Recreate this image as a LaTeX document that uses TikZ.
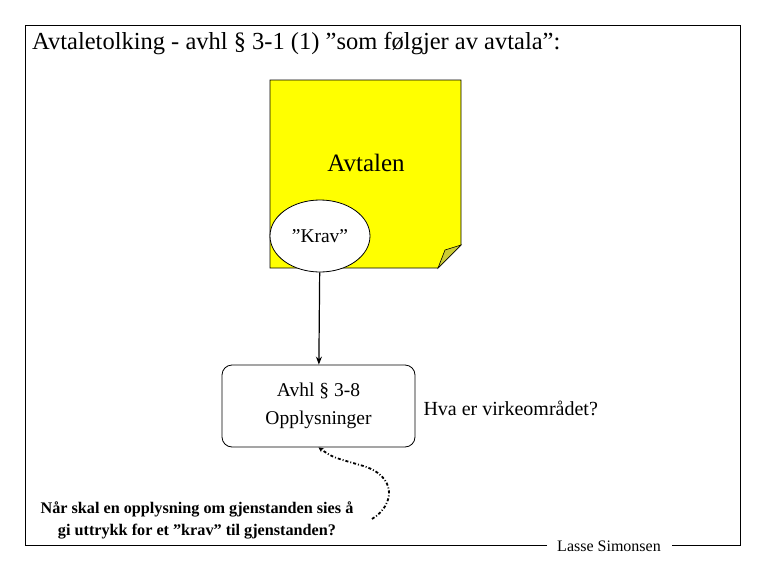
\documentclass[tikz,border=0pt]{standalone}
\usepackage{fontspec}
\setmainfont{Liberation Serif}
\usepackage{tikz}
\usetikzlibrary{shapes.geometric, arrows.meta, positioning, calc}
\definecolor{noteyellow}{HTML}{FFFF00}
\definecolor{notefold}{HTML}{CCCC33}

\begin{document}
\begin{tikzpicture}[
    x=1pt, y=-1pt,
    frame/.style={draw=black, line width=0.8pt},
    krav/.style={ellipse, draw=black, fill=white, line width=0.8pt, minimum width=100pt, minimum height=72pt, inner sep=0pt},
    block/.style={rectangle, draw=black, fill=white, line width=0.8pt, rounded corners=10pt, minimum width=193pt, minimum height=82pt, align=center, font=\fontsize{19.5}{28}\selectfont},
    arrow/.style={-{Stealth[length=8pt, width=6pt]}, line width=1.2pt},
    hint/.style={-{Stealth[length=5pt, width=5pt]}, line width=1.8pt, dash pattern=on 3pt off 2pt on 1pt off 2pt}
]
\useasboundingbox (0,0) rectangle (765,570);
% frame with gap for the signature
\draw[frame] (547,545) -- (25,545) -- (25,25) -- (740,25) -- (740,545) -- (672,545);
\node[anchor=west, inner sep=0pt, font=\fontsize{24.5}{28}\selectfont] (title) at (32,44) {Avtaletolking - avhl § 3-1 (1) ”som følgjer av avtala”:};
\node[inner sep=0pt, font=\fontsize{16}{18}\selectfont] (author) at (609,546) {Lasse Simonsen};

% the agreement, a note with folded corner
\filldraw[fill=noteyellow, draw=black, line width=0.8pt] (270,80) -- (461,80) -- (461,245) -- (438,268) -- (270,268) -- cycle;
\filldraw[fill=notefold, draw=black, line width=0.6pt] (438,268) -- (445,250) -- (461,245) -- cycle;
\node[font=\fontsize{25}{28}\selectfont] (avtalen) at (366,163) {Avtalen};
\node[krav, font=\fontsize{19.5}{22}\selectfont] (kravnode) at (320,236) {”Krav”};

\node[block] (rule) at (318.5,406) {Avhl § 3-8\\Opplysninger};
\node[anchor=west, font=\fontsize{20}{24}\selectfont] (scope) at (420,408) {Hva er virkeområdet?};
\node[align=center, font=\bfseries\fontsize{16.2}{22}\selectfont] (question) at (197,520) {Når skal en opplysning om gjenstanden sies å\\gi uttrykk for et ”krav” til gjenstanden?};
\coordinate (qend) at (372,519);

\draw[arrow] (kravnode) -- (rule);
\draw[hint] (qend) .. controls (395,505) and (398,475) .. (360,465) .. controls (332,457) .. (rule.south);
\end{tikzpicture}
\end{document}
